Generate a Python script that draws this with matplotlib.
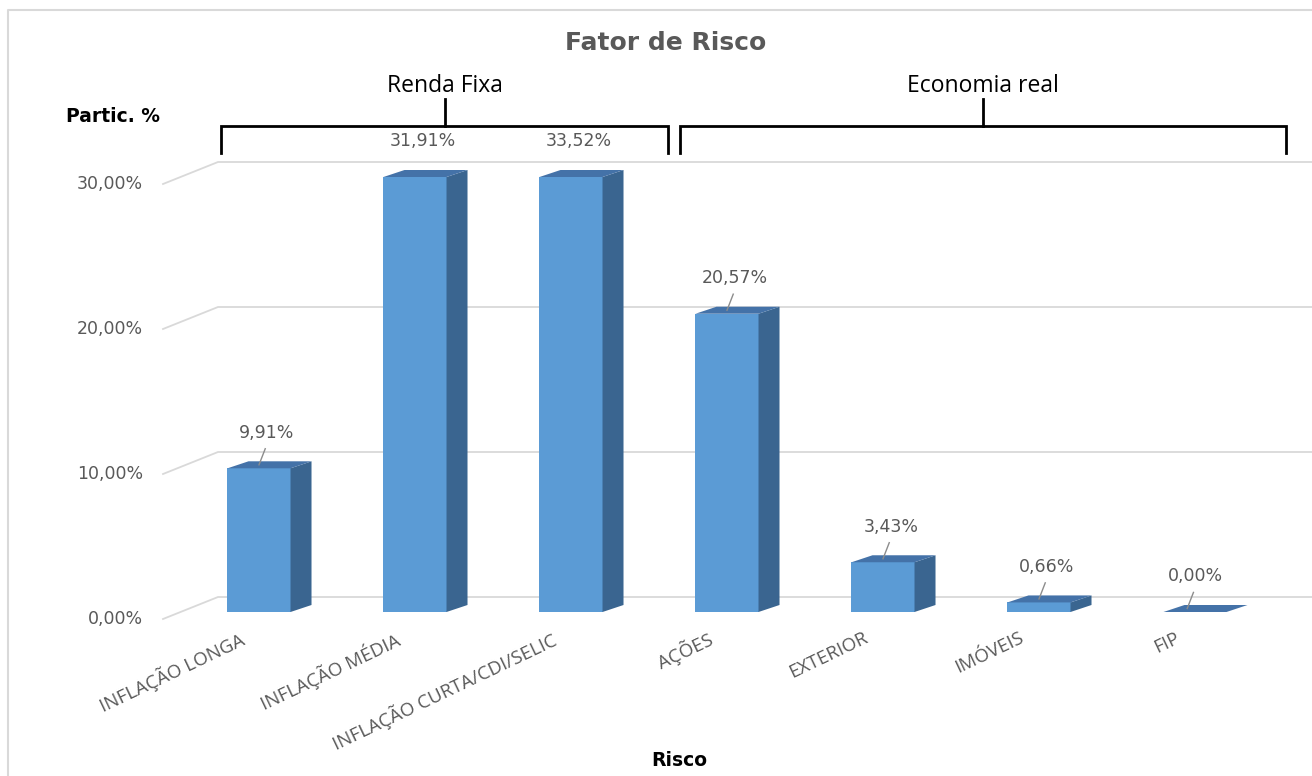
import matplotlib
matplotlib.use("Agg")
import matplotlib.pyplot as plt
from matplotlib.patches import Polygon, Rectangle

categorias = ["INFLAÇÃO LONGA", "INFLAÇÃO MÉDIA", "INFLAÇÃO CURTA/CDI/SELIC",
              "AÇÕES", "EXTERIOR", "IMÓVEIS", "FIP"]
valores = [9.91, 31.91, 33.52, 20.57, 3.43, 0.66, 0.00]
rotulos = ["9,91%", "31,91%", "33,52%", "20,57%", "3,43%", "0,66%", "0,00%"]
ticks = [0, 10, 20, 30]
tick_labels = ["0,00%", "10,00%", "20,00%", "30,00%"]
grupos = [("Renda Fixa", 221, 668), ("Economia real", 680, 1286)]

y_max = 30
W, H = 1312, 776
x0_px, dx_px = 259, 156      # centro da 1a barra, espaco entre categorias
y0_px, dy_px = 612, 14.5     # base das barras, px por 1%

cinza = "#595959"
c_frente = "#5b9bd5"
c_lado = "#3a6590"
c_topo = "#4472a8"

fig = plt.figure(figsize=(W / 100, H / 100), dpi=100)
ax = fig.add_axes([0, 0, 1, 1])
ax.set_xlim(-x0_px / dx_px, (W - x0_px) / dx_px)
ax.set_ylim((y0_px - H) / dy_px, y0_px / dy_px)
ax.axis("off")

# grade "3D": parede do fundo + trecho inclinado na esquerda
back = 15 / dy_px
xl_front = (163 - x0_px) / dx_px
xl_back = (218 - x0_px) / dx_px
front_off = back - 22 / dy_px
for t, lab in zip(ticks, tick_labels):
    ax.plot([xl_front, xl_back, 10], [t + front_off, t + back, t + back],
            color="#d9d9d9", lw=1.3, zorder=1, solid_joinstyle="miter")
    ax.text((143 - x0_px) / dx_px, t + front_off, lab, ha="right", va="center",
            fontsize=12.5, color=cinza)

# barras com profundidade
w = 0.404
dx = 21 / dx_px
dy = 7 / dy_px
for i, (v, lab, cat) in enumerate(zip(valores, rotulos, categorias)):
    h = min(v, y_max)
    a, b = i - w / 2, i + w / 2
    if h > 0:
        ax.add_patch(Rectangle((a, 0), w, h, facecolor=c_frente, edgecolor="none", zorder=3))
        ax.add_patch(Polygon([(b, 0), (b + dx, dy), (b + dx, h + dy), (b, h)],
                             facecolor=c_lado, edgecolor="none", zorder=3))
    ax.add_patch(Polygon([(a, h), (b, h), (b + dx, h + dy), (a + dx, h + dy)],
                         facecolor=c_topo, edgecolor="none", zorder=3))
    dxl = 0.05 if h > 0 else 0.0
    ax.text(i + dxl, h + 2.45, lab, ha="center", va="center", fontsize=12.5,
            color=cinza, zorder=5)
    if v <= y_max:
        ax.plot([i + dxl - 0.01, i + dxl - 0.05], [h + 1.35, h + dy / 2],
                color="#8c8c8c", lw=1, zorder=4)
    ax.text(i - 0.13, -1.15, cat, ha="right", va="top", rotation=25.5,
            rotation_mode="anchor", fontsize=13.5, color=cinza,
            family=["Open Sans", "DejaVu Sans"])

# camada de anotacoes em pixels
ov = fig.add_axes([0, 0, 1, 1])
ov.set_xlim(0, W)
ov.set_ylim(H, 0)
ov.axis("off")
ov.patch.set_alpha(0)

ov.plot([8, 8, W + 5], [H + 5, 10, 10], color="#d9d9d9", lw=1.5)

ov.text(666, 43, "Fator de Risco", ha="center", va="center", fontsize=18,
        fontweight="bold", color=cinza)
ov.text(113, 117, "Partic. %", ha="center", va="center", fontsize=13.5,
        fontweight="bold", color="black")
ov.text(679, 760, "Risco", ha="center", va="center", fontsize=13.5,
        fontweight="bold", color="black")

for nome, xa, xb in grupos:
    xm = (xa + xb) / 2
    ov.plot([xa, xa, xb, xb], [153, 126, 126, 153], color="black", lw=2,
            solid_joinstyle="miter")
    ov.plot([xm, xm], [126, 99], color="black", lw=2)
    ov.text(xm, 86, nome, ha="center", va="center", fontsize=16.5,
            family=["Open Sans", "DejaVu Sans"], color="black")

fig.savefig("out.png", dpi=100)
